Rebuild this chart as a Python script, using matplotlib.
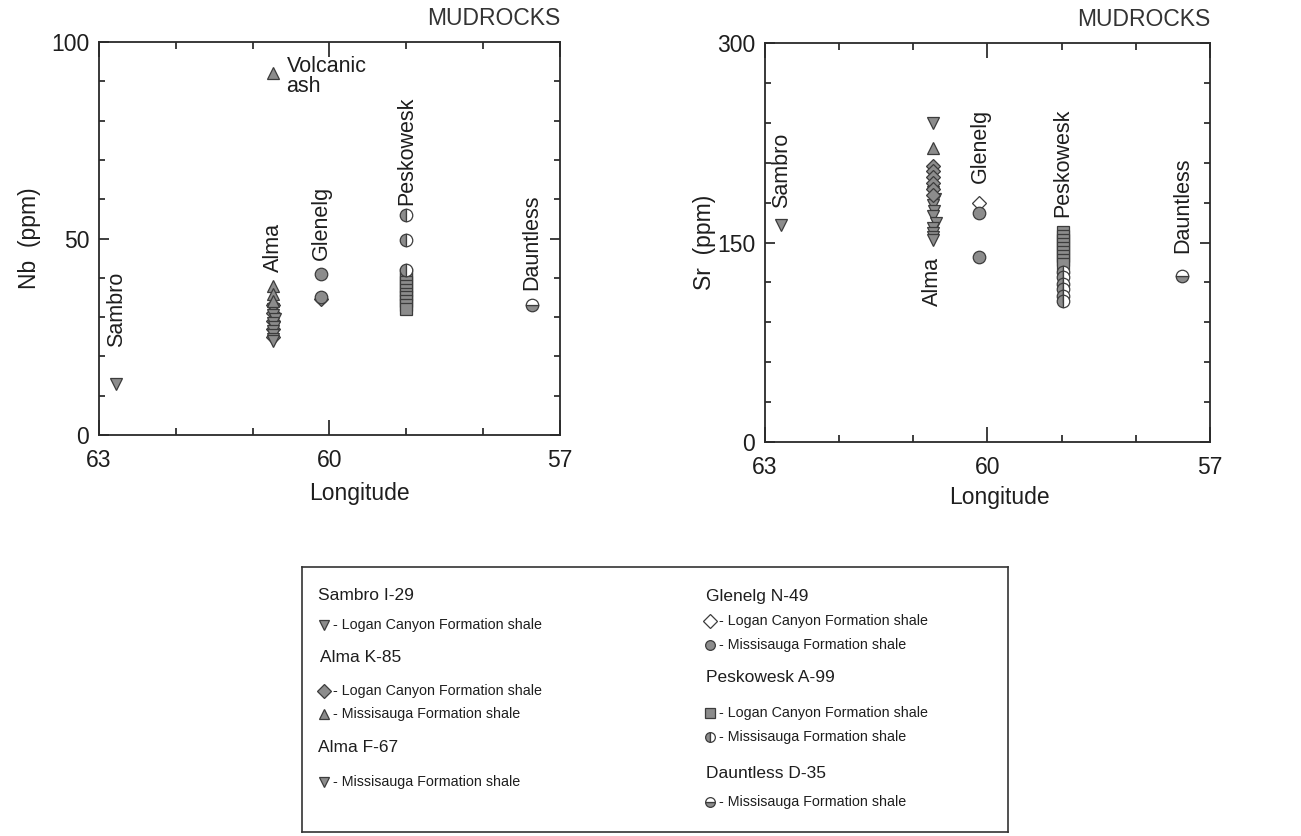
import matplotlib
matplotlib.use("Agg")
from matplotlib import pyplot as plt
from matplotlib.ticker import MultipleLocator

plt.rcParams['font.family'] = ['Liberation Sans', 'DejaVu Sans']

# Nb (ppm) by well and formation
sambro_lc_lon = [62.78]
sambro_lc_nb = [13]
alma_k85_ms_lon = [60.73, 60.73, 60.73, 60.73]
alma_k85_ms_nb = [92, 38, 36, 34]
alma_k85_lc_lon = [60.73, 60.73, 60.73, 60.73, 60.73]
alma_k85_lc_nb = [33, 31, 29, 27, 25]
alma_f67_ms_lon = [60.73, 60.73, 60.71, 60.73, 60.72, 60.73, 60.73, 60.74, 60.73]
alma_f67_ms_nb = [32, 30.5, 29.5, 28.5, 27.5, 26.5, 25.5, 24.5, 24]
glenelg_lc_lon = [60.11]
glenelg_lc_nb = [34.5]
glenelg_ms_lon = [60.11, 60.11]
glenelg_ms_nb = [41, 35]
pesk_lc_lon = [59.0] * 10
pesk_lc_nb = [41, 40, 39, 38, 37, 36, 35, 34, 33, 32]
pesk_ms_lon = [59.0, 59.0, 59.0]
pesk_ms_nb = [56, 49.5, 42]
daunt_ms_lon = [57.37]
daunt_ms_nb = [33]

# Sr (ppm) by well and formation
sambro_lc_sr = [163]
alma_k85_ms_sr = [221]
alma_k85_lc_sr = [208, 204, 199, 195, 190, 186]
alma_f67_ms_lon2 = [60.73, 60.73, 60.71, 60.73, 60.72, 60.73, 60.70, 60.73, 60.73, 60.73, 60.73]
alma_f67_ms_sr = [240, 188, 183, 178, 174, 170, 165, 161, 157, 154, 152]
glenelg_lc_sr = [180]
glenelg_ms_sr = [172, 139]
pesk_lc_lon2 = [58.98] * 9
pesk_lc_sr = [158, 155, 152, 149, 146, 143, 140, 137, 134]
pesk_ms_lon2 = [58.98] * 6
pesk_ms_sr = [128, 124, 119, 115, 110, 106]
daunt_ms_sr = [125]

FILL = '#8c8c8c'
EDGE = '#3c3c3c'
TXT = '#1e1e1e'
MS = 9

styles = {
    'tri_down': dict(marker='v', mfc=FILL, mec=EDGE),
    'tri_up': dict(marker='^', mfc=FILL, mec=EDGE),
    'diamond': dict(marker='D', mfc=FILL, mec=EDGE, ms=7),
    'open_diamond': dict(marker='D', mfc='white', mec=EDGE, ms=7),
    'circle': dict(marker='o', mfc=FILL, mec=EDGE),
    'half_circle': dict(marker='o', mfc=FILL, mec=EDGE, fillstyle='left', markerfacecoloralt='white'),
    'split_circle': dict(marker='o', mfc=FILL, mec=EDGE, fillstyle='bottom', markerfacecoloralt='white'),
    'square': dict(marker='s', mfc=FILL, mec=EDGE),
}


def pts(ax, x, y, kind, size=MS):
    st = dict(styles[kind])
    st.setdefault('ms', size)
    ax.plot(x, y, ls='none', mew=0.9, **st)


def frame(ax, ymax, ystep, yminor, xlab_xy):
    ax.set_xlim(63, 57)
    ax.set_ylim(0, ymax)
    ax.set_xticks([63, 60, 57])
    ax.xaxis.set_minor_locator(MultipleLocator(1))
    ax.set_yticks([0, ystep, ymax])
    ax.yaxis.set_minor_locator(MultipleLocator(yminor))
    ax.tick_params(which='both', direction='in', top=True, right=True,
                   labelsize=16.5, colors=TXT, width=1.2)
    ax.tick_params(axis='y', which='major', length=7, pad=7)
    ax.tick_params(axis='y', which='minor', length=4)
    ax.tick_params(axis='x', which='major', length=11, pad=10)
    ax.tick_params(axis='x', which='minor', length=5)
    for s in ax.spines.values():
        s.set_linewidth(1.3)
        s.set_color('#2a2a2a')
    ax.set_xlabel('Longitude', fontsize=16.5, color=TXT, va='center', ha='center')
    ax.xaxis.set_label_coords(*xlab_xy)
    ax.text(1.0, 1.03, 'MUDROCKS', transform=ax.transAxes, ha='right',
            va='bottom', fontsize=16.5, color='#333333')


fig = plt.figure(figsize=(13.01, 8.36), dpi=100)

# --- Nb panel ---
ax1 = fig.add_axes([0.0761, 0.4797, 0.3543, 0.470])
frame(ax1, 100, 50, 10, (0.566, -0.150))
ax1.set_ylabel('Nb  (ppm)', fontsize=16.5, color=TXT, labelpad=7)
pts(ax1, sambro_lc_lon, sambro_lc_nb, 'tri_down')
pts(ax1, alma_k85_lc_lon, alma_k85_lc_nb, 'diamond')
pts(ax1, alma_f67_ms_lon, alma_f67_ms_nb, 'tri_down')
pts(ax1, alma_k85_ms_lon, alma_k85_ms_nb, 'tri_up')
pts(ax1, glenelg_lc_lon, glenelg_lc_nb, 'diamond')
pts(ax1, glenelg_ms_lon, glenelg_ms_nb, 'circle')
pts(ax1, pesk_lc_lon, pesk_lc_nb, 'square')
pts(ax1, pesk_ms_lon, pesk_ms_nb, 'half_circle')
pts(ax1, daunt_ms_lon, daunt_ms_nb, 'split_circle')

lab = dict(rotation=90, fontsize=15.5, color=TXT, ha='center')
ax1.text(62.77, 22.5, 'Sambro', va='bottom', **lab)
ax1.text(60.73, 41.5, 'Alma', va='bottom', **lab)
ax1.text(60.10, 44.5, 'Glenelg', va='bottom', **lab)
ax1.text(59.00, 58.5, 'Peskowesk', va='bottom', **lab)
ax1.text(57.37, 37.0, 'Dauntless', va='bottom', **lab)
ax1.text(60.56, 96.5, 'Volcanic\nash', va='top', ha='left', fontsize=15.5,
         color=TXT, linespacing=0.95)

# --- Sr panel ---
ax2 = fig.add_axes([0.588, 0.4713, 0.342, 0.477])
frame(ax2, 300, 150, 30, (0.528, -0.140))
ax2.set_ylabel('Sr  (ppm)', fontsize=16.5, color=TXT, labelpad=1)
pts(ax2, sambro_lc_lon, sambro_lc_sr, 'tri_down')
pts(ax2, alma_f67_ms_lon2, alma_f67_ms_sr, 'tri_down')
pts(ax2, [60.73] * len(alma_k85_lc_sr), alma_k85_lc_sr, 'diamond')
pts(ax2, [60.73], alma_k85_ms_sr, 'tri_up')
pts(ax2, [60.12], glenelg_lc_sr, 'open_diamond')
pts(ax2, [60.12, 60.12], glenelg_ms_sr, 'circle')
pts(ax2, pesk_lc_lon2, pesk_lc_sr, 'square')
pts(ax2, pesk_ms_lon2, pesk_ms_sr, 'half_circle')
pts(ax2, [57.37], daunt_ms_sr, 'split_circle')

ax2.text(62.78, 176, 'Sambro', va='bottom', **lab)
ax2.text(60.74, 139, 'Alma', va='top', **lab)
ax2.text(60.10, 195, 'Glenelg', va='bottom', **lab)
ax2.text(58.99, 169, 'Peskowesk', va='bottom', **lab)
ax2.text(57.36, 142, 'Dauntless', va='bottom', **lab)

# --- key box ---
lg = fig.add_axes([302 / 1301, 1 - 832 / 836, 706 / 1301, 265 / 836])
lg.set_xlim(0, 706)
lg.set_ylim(265, 0)
lg.set_xticks([])
lg.set_yticks([])
for s in lg.spines.values():
    s.set_linewidth(1.2)
    s.set_color('#333333')

key_rows = [
    (16, 29, None, 'Sambro I-29'),
    (18, 58, 'tri_down', '- Logan Canyon Formation shale'),
    (18, 91, None, 'Alma K-85'),
    (18, 124, 'diamond', '- Logan Canyon Formation shale'),
    (18, 147, 'tri_up', '- Missisauga Formation shale'),
    (16, 181, None, 'Alma F-67'),
    (18, 215, 'tri_down', '- Missisauga Formation shale'),
    (404, 29, None, 'Glenelg N-49'),
    (404, 54, 'open_diamond', '- Logan Canyon Formation shale'),
    (404, 78, 'circle', '- Missisauga Formation shale'),
    (404, 111, None, 'Peskowesk A-99'),
    (404, 146, 'square', '- Logan Canyon Formation shale'),
    (404, 170, 'half_circle', '- Missisauga Formation shale'),
    (404, 206, None, 'Dauntless D-35'),
    (404, 235, 'split_circle', '- Missisauga Formation shale'),
]
for kx, ky, kind, text in key_rows:
    if kind is None:
        lg.text(kx, ky, text, fontsize=12.5, color=TXT, va='center', ha='left')
    else:
        pts(lg, [kx + 4], [ky], kind, size=7)
        lg.text(kx + 13, ky, text, fontsize=10.3, color=TXT, va='center', ha='left')

fig.savefig('out.png', dpi=100)
